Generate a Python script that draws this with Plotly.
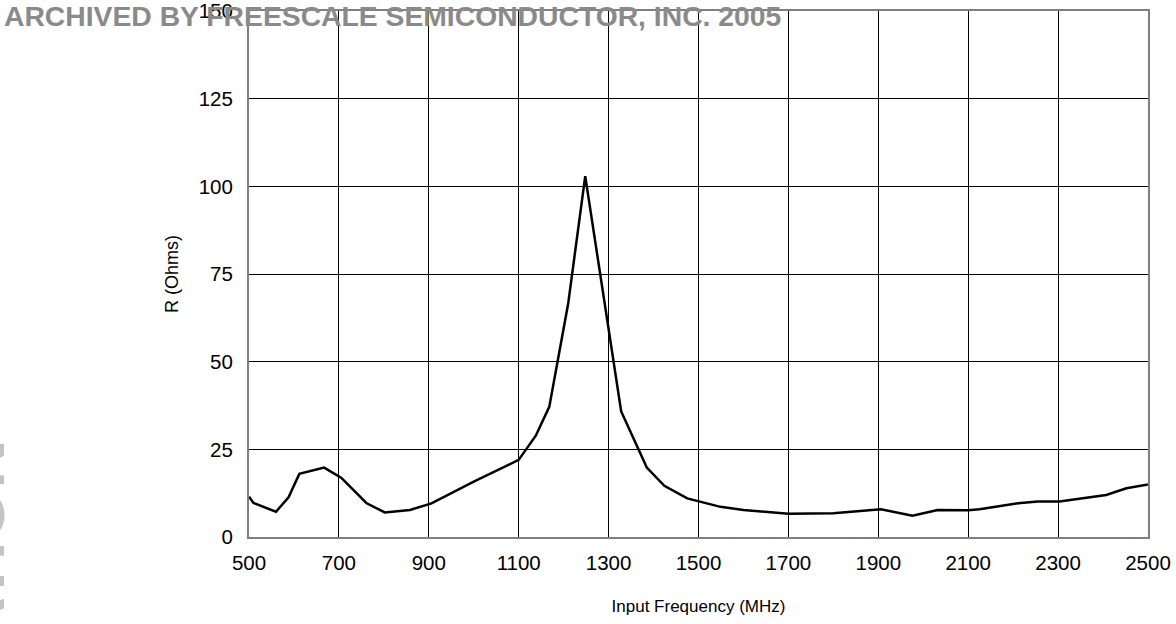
import plotly.graph_objects as go

# Data
freq_mhz = [500, 510, 560, 588, 612, 667, 705, 761, 802, 858, 906, 1000, 1100, 1138,
            1168, 1210, 1248, 1328, 1385, 1424, 1475, 1549, 1600, 1700, 1800, 1906,
            1976, 2032, 2100, 2125, 2211, 2255, 2303, 2407, 2452, 2500]
r_ohms = [11.5, 9.7, 7.2, 11.3, 18.0, 19.8, 16.9, 9.7, 7.0, 7.7, 9.6, 15.8, 22.0, 28.9,
          37.1, 66.5, 102.9, 35.8, 19.8, 14.6, 11.0, 8.6, 7.7, 6.6, 6.8, 7.9,
          6.1, 7.7, 7.6, 7.9, 9.6, 10.1, 10.1, 12.0, 13.9, 15.0]

x_ticks = [500, 700, 900, 1100, 1300, 1500, 1700, 1900, 2100, 2300, 2500]
y_ticks = [0, 25, 50, 75, 100, 125, 150]

FONT = "Liberation Sans, Arial, sans-serif"

fig = go.Figure()
fig.add_trace(go.Scatter(
    x=freq_mhz, y=r_ohms, mode="lines",
    line=dict(color="black", width=2.5),
    showlegend=False, hoverinfo="skip",
))

fig.update_layout(
    width=1176, height=624,
    margin=dict(l=249, r=28, t=11, b=87, autoexpand=False),
    paper_bgcolor="white", plot_bgcolor="white",
    font=dict(family=FONT, color="black", size=20),
    xaxis=dict(
        range=[500, 2500], tickvals=x_ticks, ticktext=[str(v) for v in x_ticks],
        showgrid=True, gridcolor="black", gridwidth=1, zeroline=False,
        showline=True, linecolor="#808080", linewidth=2, mirror=True,
        automargin=False, ticklabeloverflow="allow",
        ticks="", ticklabelstandoff=6, tickfont=dict(size=20.5),
        title=dict(text="Input Frequency (MHz)", font=dict(size=17), standoff=28),
    ),
    yaxis=dict(
        range=[0, 150], tickvals=y_ticks, ticktext=[str(v) for v in y_ticks],
        showgrid=True, gridcolor="black", gridwidth=1, zeroline=False,
        showline=True, linecolor="#808080", linewidth=2, mirror=True,
        automargin=False, ticklabeloverflow="allow",
        ticks="", ticklabelstandoff=10, tickfont=dict(size=20.5),
        title=dict(text="R (Ohms)", font=dict(size=18), standoff=15),
    ),
)

fig.add_annotation(
    text="<b>ARCHIVED BY FREESCALE SEMICONDUCTOR, INC. 2005</b>",
    xref="paper", yref="paper", x=(2 - 249) / 899, y=(537 - 16) / 526,
    xanchor="left", yanchor="middle", showarrow=False,
    font=dict(family=FONT, size=28.3, color="#8a8a8a"),
)

fig.add_annotation(
    text="<b>ARCHIVE INFORMATION</b>",
    xref="paper", yref="paper", x=(-20 - 249) / 899, y=(537 - 839) / 526,
    xanchor="center", yanchor="middle", showarrow=False, textangle=-90,
    font=dict(family=FONT, size=68, color="#c4c4c4"),
)

fig.write_html("out.html", config={"displayModeBar": False},
               post_script="document.body.style.margin='0px';")
